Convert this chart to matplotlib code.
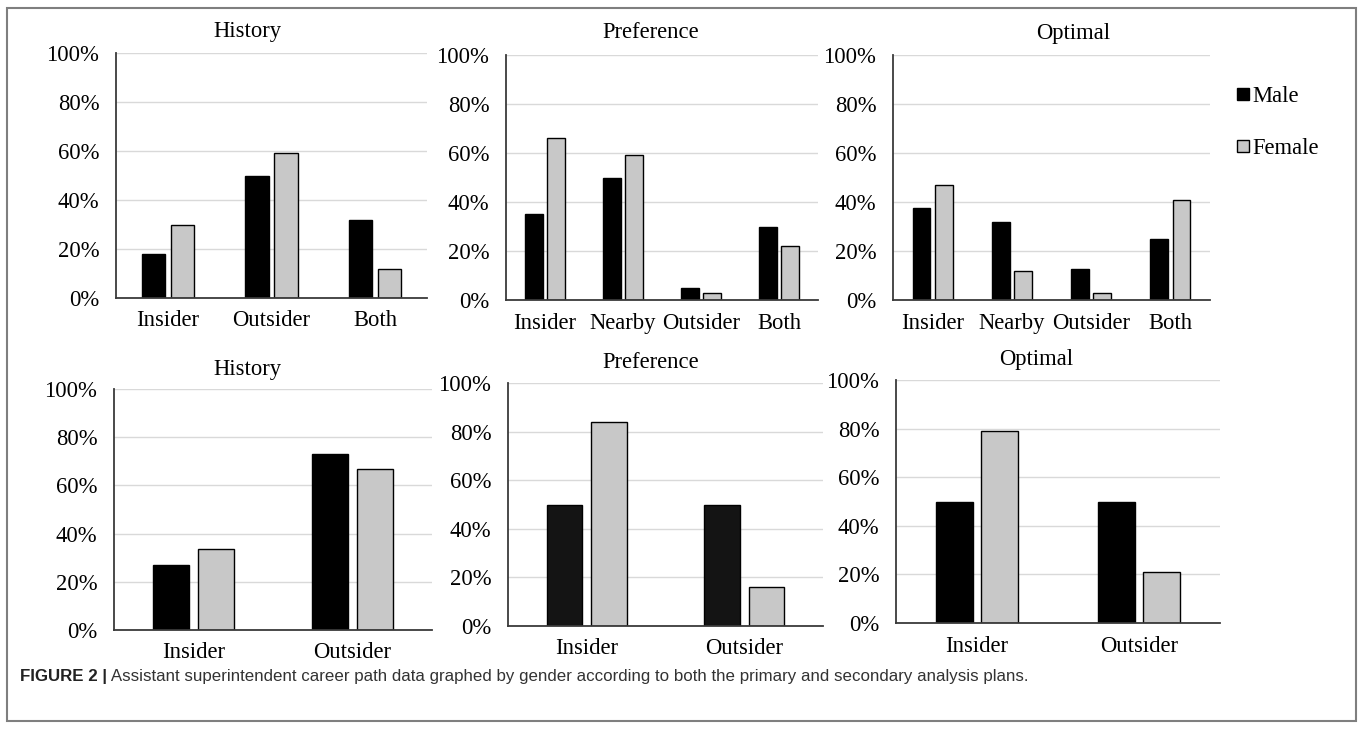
import numpy as np
import matplotlib
matplotlib.use("Agg")
import matplotlib.pyplot as plt
from matplotlib.lines import Line2D
from matplotlib.patches import Rectangle

# ---------------- data ----------------
cats3 = ["Insider", "Outsider", "Both"]
cats4 = ["Insider", "Nearby", "Outsider", "Both"]
cats2 = ["Insider", "Outsider"]

hist_top_male = [18, 50, 32]
hist_top_female = [30, 59, 12]
pref_top_male = [35, 50, 5, 30]
pref_top_female = [66, 59, 3, 22]
opt_top_male = [37.5, 32, 12.5, 25]
opt_top_female = [47, 12, 3, 41]

hist_bot_male = [27, 73]
hist_bot_female = [33.5, 67]
pref_bot_male = [50, 50]
pref_bot_female = [84, 16]
opt_bot_male = [50, 50]
opt_bot_female = [79, 21]

titles = ["History", "Preference", "Optimal", "History", "Preference", "Optimal"]
yticks = [0, 20, 40, 60, 80, 100]
ytick_labels = ["0%", "20%", "40%", "60%", "80%", "100%"]
legend_labels = ["Male", "Female"]
caption_bold = "FIGURE 2 |"
caption_text = " Assistant superintendent career path data graphed by gender according to both the primary and secondary analysis plans."

# ---------------- styling ----------------
W, H = 1358, 731
DPI = 100
SERIF = ["Liberation Serif", "DejaVu Serif"]
FS = 16.3
MALE_C = "#000000"
FEMALE_C = "#c8c8c8"
GRID_C = "#d9d9d9"
SPINE_C = "#3a3a3a"

fig = plt.figure(figsize=(W / DPI, H / DPI), dpi=DPI)
fig.patch.set_facecolor("white")


def rect(l, r, t, b):
    return [l / W, 1 - b / H, (r - l) / W, (b - t) / H]


panels = [
    (rect(116, 427, 53, 298), cats3, hist_top_male, hist_top_female, MALE_C, (247, 32)),
    (rect(506, 818, 55, 300), cats4, pref_top_male, pref_top_female, MALE_C, (651, 33)),
    (rect(893, 1210, 55, 300), cats4, opt_top_male, opt_top_female, MALE_C, (1073, 34)),
    (rect(114, 432, 389, 630), cats2, hist_bot_male, hist_bot_female, MALE_C, (247, 369)),
    (rect(508, 823, 383, 626), cats2, pref_bot_male, pref_bot_female, "#141414", (651, 363)),
    (rect(896, 1220, 380, 623), cats2, opt_bot_male, opt_bot_female, MALE_C, (1036, 359)),
]

OFF = 0.14
BW = 0.225

for i, (r, cats, male, female, mc, tpos) in enumerate(panels):
    ax = fig.add_axes(r)
    x = np.arange(len(cats))
    ax.bar(x - OFF, male, width=BW, color=mc, edgecolor="#000000", linewidth=1.0, zorder=3)
    ax.bar(x + OFF, female, width=BW, color=FEMALE_C, edgecolor="#000000", linewidth=1.0, zorder=3)
    ax.set_xlim(-0.5, len(cats) - 0.5)
    ax.set_ylim(0, 100)
    ax.set_yticks(yticks)
    ax.set_yticklabels(ytick_labels, family=SERIF, fontsize=FS)
    ax.set_xticks(x)
    ax.set_xticklabels(cats, family=SERIF, fontsize=FS)
    ax.tick_params(axis="y", length=0, pad=12)
    ax.tick_params(axis="x", length=0, pad=9)
    for s in ["top", "right"]:
        ax.spines[s].set_visible(False)
    for s in ["left", "bottom"]:
        ax.spines[s].set_color(SPINE_C)
        ax.spines[s].set_linewidth(1.3)
        ax.spines[s].set_zorder(4)
    ax.yaxis.grid(True, color=GRID_C, linewidth=1.0, zorder=0)
    ax.set_axisbelow(True)
    ax.patch.set_alpha(0)
    fig.text(tpos[0] / W, 1 - tpos[1] / H, titles[i], family=SERIF, fontsize=FS,
             ha="center", va="center")

# legend
handles = [
    Line2D([], [], linestyle="none", marker="s", markersize=8.5,
           markerfacecolor=MALE_C, markeredgecolor="#000000", markeredgewidth=1.0),
    Line2D([], [], linestyle="none", marker="s", markersize=8.5,
           markerfacecolor=FEMALE_C, markeredgecolor="#000000", markeredgewidth=1.0),
]
fig.legend(handles, legend_labels, loc="upper left",
           bbox_to_anchor=(1237 / W, 1 - 86 / H), frameon=False,
           prop={"family": SERIF, "size": FS}, handlelength=0.5,
           handletextpad=0.2, labelspacing=1.35, borderaxespad=0, borderpad=0)

# border
fig.add_artist(Rectangle((7 / W, 1 - 721 / H), (1356 - 7) / W, (721 - 8) / H,
                         transform=fig.transFigure, fill=False,
                         edgecolor="#7f7f7f", linewidth=1.5))

# caption
cap_fam = ["Liberation Sans Narrow", "Liberation Sans", "DejaVu Sans"]
t1 = fig.text(20 / W, 1 - 677 / H, caption_bold, family=cap_fam, fontsize=12.2,
              fontweight="bold", ha="left", va="center", color="#222222")
fig.canvas.draw()
bb = t1.get_window_extent()
fig.text(bb.x1 / W, 1 - 677 / H, caption_text, family=cap_fam, fontsize=12.2,
         ha="left", va="center", color="#333333")

fig.savefig("out.png", dpi=DPI, facecolor="white")
